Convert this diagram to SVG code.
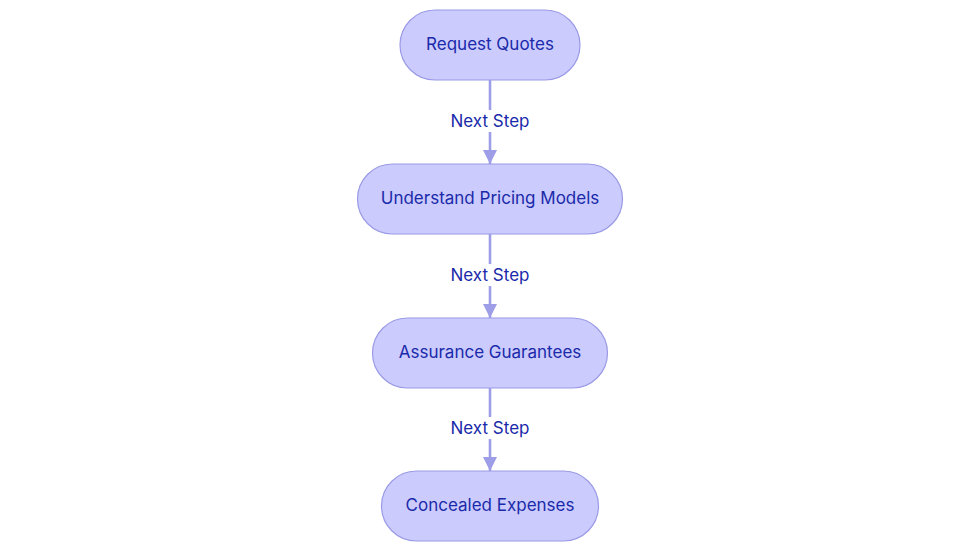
<svg xmlns="http://www.w3.org/2000/svg" width="980" height="553" viewBox="0 0 980 553">
<defs>
<style>
.node rect{fill:#cbcbfd;stroke:#9a9ae6;stroke-width:1.2}
.node text{font-family:Inter,"Noto Sans",sans-serif;font-size:17px;fill:#1a2aaa;text-anchor:middle;dominant-baseline:central}
.edge line{stroke:#9d9de8;stroke-width:2.6}
.lbl rect{fill:#ffffff}
.lbl text{font-family:Inter,"Noto Sans",sans-serif;font-size:17px;fill:#1a2aaa;text-anchor:middle;dominant-baseline:central}
</style>
<marker id="ah" viewBox="0 0 10 10" refX="10" refY="5" markerWidth="14" markerHeight="14" markerUnits="userSpaceOnUse" orient="auto">
<path d="M0,0 L10,5 L0,10 z" fill="#9d9de8"/>
</marker>
</defs>
<g id="connectors" class="edge">
<line x1="490" y1="80" x2="490" y2="164" marker-end="url(#ah)"/>
<line x1="490" y1="234" x2="490" y2="318" marker-end="url(#ah)"/>
<line x1="490" y1="388" x2="490" y2="471" marker-end="url(#ah)"/>
</g>
<g id="n1" class="node"><rect x="400" y="10" width="180" height="70" rx="35"/><text x="490" y="44">Request Quotes</text></g>
<g id="n2" class="node"><rect x="357.5" y="164" width="265" height="70" rx="35"/><text x="490" y="198">Understand Pricing Models</text></g>
<g id="n3" class="node"><rect x="372.5" y="318" width="235" height="70" rx="35"/><text x="490" y="352">Assurance Guarantees</text></g>
<g id="n4" class="node"><rect x="381.5" y="471" width="217" height="70" rx="35"/><text x="490" y="505">Concealed Expenses</text></g>
<g id="l1" class="lbl"><rect x="447" y="110" width="86" height="22"/><text x="490" y="121">Next Step</text></g>
<g id="l2" class="lbl"><rect x="447" y="264" width="86" height="22"/><text x="490" y="275">Next Step</text></g>
<g id="l3" class="lbl"><rect x="447" y="417" width="86" height="22"/><text x="490" y="428">Next Step</text></g>
</svg>
